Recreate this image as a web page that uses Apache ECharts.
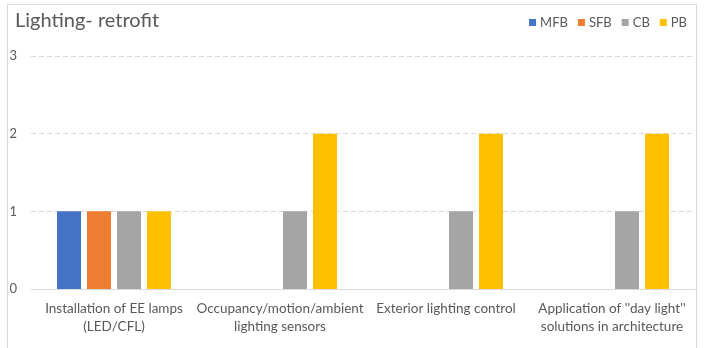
<!DOCTYPE html>
<html>
<head>
<meta charset="utf-8">
<style>
  html, body { margin: 0; padding: 0; background: #fff; }
  #chart { width: 706px; height: 348px; }
</style>
<script src="https://cdn.jsdelivr.net/npm/echarts@6/dist/echarts.min.js"></script>
</head>
<body>
<div id="chart"></div>
<script>
// Retrofit measures (x-axis categories)
const categories = [
  'Installation of EE lamps\n(LED/CFL)',
  'Occupancy/motion/ambient\nlighting sensors',
  'Exterior lighting control',
  'Application of \'\'day light\'\'\nsolutions in architecture'
];

// Counts per building type; null = no bar
const mfb = [1, null, null, null];
const sfb = [1, null, null, null];
const cb  = [1, 1, 1, 1];
const pb  = [1, 2, 2, 2];

const yTicks = [0, 1, 2, 3];

const font = 'Lato, Carlito, Calibri, sans-serif';
const textGrey = '#595959';
const lineGrey = '#d9d9d9';

const chart = echarts.init(document.getElementById('chart'), null, { renderer: 'canvas' });

function barSeries(name, data, color) {
  return {
    name: name,
    type: 'bar',
    data: data,
    barWidth: 24,
    barGap: '25%',
    itemStyle: { color: color },
    emphasis: { disabled: true }
  };
}

chart.setOption({
  animation: false,
  backgroundColor: '#fff',
  graphic: [{
    type: 'rect',
    shape: { x: 7.5, y: 4.5, width: 689, height: 360 },
    style: { fill: 'none', stroke: lineGrey, lineWidth: 1 },
    silent: true
  }],
  title: {
    text: 'Lighting- retrofit',
    left: 10,
    top: 6,
    textStyle: { fontFamily: font, fontSize: 20, fontWeight: 'normal', color: textGrey }
  },
  legend: {
    right: 14,
    top: 11,
    itemWidth: 7,
    itemHeight: 7,
    itemGap: 10,
    icon: 'rect',
    textStyle: { fontFamily: font, fontSize: 13, color: textGrey, padding: [0, 0, 0, -1] },
    data: ['MFB', 'SFB', 'CB', 'PB']
  },
  grid: { left: 31, top: 56, width: 664, height: 233, containLabel: false },
  xAxis: {
    type: 'category',
    data: categories,
    axisLine: { lineStyle: { color: lineGrey, width: 1 } },
    axisTick: { show: false },
    axisLabel: {
      fontFamily: font, fontSize: 13.5, color: textGrey,
      lineHeight: 18, margin: 11, interval: 0
    }
  },
  yAxis: {
    type: 'value',
    min: yTicks[0],
    max: yTicks[yTicks.length - 1],
    interval: 1,
    axisLine: { show: false },
    axisTick: { show: false },
    axisLabel: { fontFamily: font, fontSize: 13, color: textGrey, margin: 14 },
    splitLine: { lineStyle: { color: lineGrey, width: 1, type: [5, 3] } }
  },
  series: [
    barSeries('MFB', mfb, '#4472C4'),
    barSeries('SFB', sfb, '#ED7D31'),
    barSeries('CB', cb, '#A5A5A5'),
    barSeries('PB', pb, '#FFC000')
  ]
});
</script>
</body>
</html>
